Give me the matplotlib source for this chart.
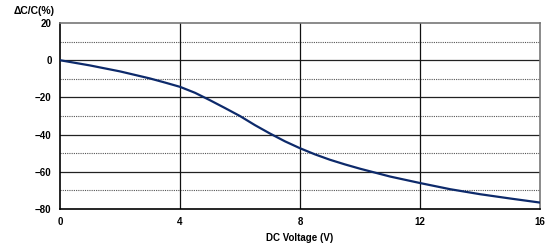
import numpy as np
import matplotlib.pyplot as plt

# DC bias characteristic: capacitance change vs DC voltage
voltage = [0, 1, 2, 3, 3.5, 4, 4.5, 5, 5.5, 6, 6.5, 7, 7.5, 8,
           8.5, 9, 9.5, 10, 11, 12, 13, 14, 15, 16]
cap_change = [0, -2.8, -6, -9.8, -12, -14.3, -17.5, -21.5, -25.7, -30, -34.9, -39.4, -43.6, -47.3,
              -50.6, -53.5, -56, -58.3, -62.5, -66, -69.3, -72, -74.3, -76.5]

x_ticks = [0, 4, 8, 12, 16]
y_ticks = [20, 0, -20, -40, -60, -80]
y_minor = [10, -10, -30, -50, -70]

plt.rcParams['font.family'] = ['Liberation Sans', 'DejaVu Sans']
plt.rcParams['font.weight'] = 'bold'

fig = plt.figure(figsize=(5.45, 2.46), dpi=100)
ax = fig.add_axes([0.110, 0.150, 0.881, 0.7565])

# grid
for y in y_ticks[1:-1]:
    ax.axhline(y, color='#222222', lw=0.9, zorder=1)
for y in y_minor:
    ax.axhline(y, color='#555555', lw=0.8, ls=(0, (1, 1)), zorder=1)
for x in x_ticks[1:-1]:
    ax.axvline(x, color='#111111', lw=0.9, zorder=1)

ax.plot(voltage, cap_change, color='#0d2a6b', lw=1.6, zorder=3)

ax.set_xlim(0, 16)
ax.set_ylim(-80, 20)
ax.set_xticks(x_ticks)
ax.set_yticks(y_ticks)
ax.tick_params(length=0, labelsize=7, pad=6)
for lab in ax.get_xticklabels() + ax.get_yticklabels():
    lab.set_fontweight('bold')

ax.spines['left'].set_color('black')
ax.spines['bottom'].set_color('black')
ax.spines['left'].set_linewidth(1.2)
ax.spines['bottom'].set_linewidth(1.2)
ax.spines['top'].set_color('#777777')
ax.spines['right'].set_color('#777777')
ax.spines['top'].set_linewidth(1.2)
ax.spines['right'].set_linewidth(1.2)

ax.set_xlabel('DC Voltage (V)', fontsize=7, fontweight='bold', labelpad=4)
fig.text(14 / 545, 1 - 11 / 246, '\u0394C/C(%)', fontsize=7.5, fontweight='bold',
         ha='left', va='center')

fig.savefig('out.png', dpi=100)
